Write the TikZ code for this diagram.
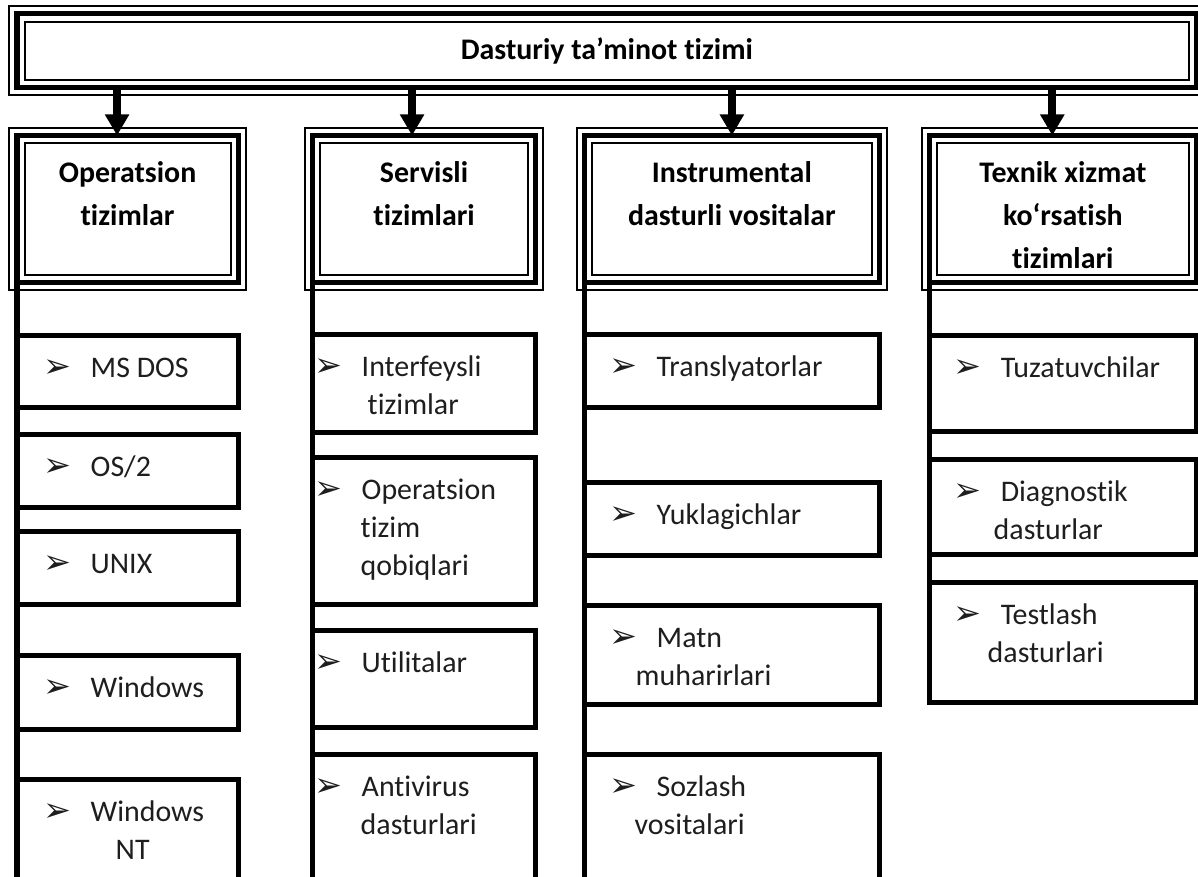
\documentclass[tikz,border=0pt]{standalone}
\usepackage{fontspec}
\setmainfont{Carlito}[Ligatures=NoCommon]
\newfontfamily\bulletfont{DejaVu Sans}
\usetikzlibrary{arrows.meta,calc,positioning}
\definecolor{ink}{HTML}{000000}
\definecolor{itemink}{HTML}{1E1E1E}
\newcommand{\itemmark}{\strut\makebox[.47cm][l]{\bulletfont\fontsize{9.5}{10}\selectfont ➢}}
\tikzset{
  triple border/.style={draw=ink,line width=.05cm,outer sep=0pt,inner sep=0pt,
    preaction={draw=ink,line width=.17cm},
    preaction={draw=white,line width=.13cm}},
  head box/.style={triple border,anchor=north west,
    font=\bfseries\fontsize{8.5}{10.2}\selectfont},
  cat box/.style={triple border,anchor=north west,minimum height=1.47cm},
  leaf box/.style={draw=ink,line width=.05cm,anchor=north west,outer sep=0pt,inner sep=0pt},
  cat text/.style={anchor=north,inner sep=0pt,align=center,text=ink,
    font=\bfseries\fontsize{8.5}{12.2}\selectfont},
  item text/.style={anchor=north west,inner sep=0pt,align=left,text=itemink,
    font=\fontsize{8.5}{10.8}\selectfont},
  down arrow/.style={draw=ink,line width=.08cm,-{Triangle[length=.21cm,width=.23cm]}},
  spine/.style={draw=ink,line width=.05cm}
}

\begin{document}
\begin{tikzpicture}[x=0.01cm,y=-0.01cm]
  \clip (0,0) rectangle (1198,876);
  \fill[white] (0,0) rectangle (1198,876);

  % Root
  \node[head box,minimum width=11.79cm,minimum height=.73cm] (top) at (17,14)
    {Dasturiy ta’minot tizimi};

  % Four groups
  \node[cat box,minimum width=2.21cm]  (c1) at (17,135.5) {};
  \node[cat box,minimum width=2.23cm]  (c2) at (312.5,135.5) {};
  \node[cat box,minimum width=2.955cm] (c3) at (584,135.5) {};
  \node[cat box,minimum width=2.665cm] (c4) at (929.5,135.5) {};

  \node[cat text] (ct1) at ($(c1.north)+(0,16.5)$) {\strut Operatsion\\tizimlar};
  \node[cat text] (ct2) at ($(c2.north)+(0,16.5)$) {\strut Servisli\\tizimlari};
  \node[cat text] (ct3) at ($(c3.north)+(0,16.5)$) {\strut Instrumental\\dasturli vositalar};
  \node[cat text] (ct4) at ($(c4.north)+(0,16.5)$) {\strut Texnik xizmat\\ko‘rsatish\\tizimlari};

  % Arrow ends on the group boxes
  \coordinate (a1) at ($(c1.north)+(-10.5,0)$);
  \coordinate (a2) at ($(c2.north)+(-12,0)$);
  \coordinate (a3) at (c3.north);
  \coordinate (a4) at ($(c4.north)+(-10.5,0)$);
  \draw[down arrow] (a1 |- top.south) -- (a1);
  \draw[down arrow] (a2 |- top.south) -- (a2);
  \draw[down arrow] (a3 |- top.south) -- (a3);
  \draw[down arrow] (a4 |- top.south) -- (a4);

  % Operatsion tizimlar
  \node[leaf box,minimum width=2.21cm,minimum height=.72cm]  (l11) at (17,335) {};
  \node[leaf box,minimum width=2.21cm,minimum height=.73cm]  (l12) at (17,434) {};
  \node[leaf box,minimum width=2.21cm,minimum height=.73cm]  (l13) at (17,531) {};
  \node[leaf box,minimum width=2.21cm,minimum height=.74cm]  (l14) at (17,655) {};
  \node[leaf box,minimum width=2.21cm,minimum height=1.21cm] (l15) at (17,779) {};
  \draw[spine] (c1.south west) -- (l15.south west);

  \node[item text] (t11) at ($(l11.north west)+(26,15.3)$) {\itemmark MS DOS};
  \node[item text] (t12) at ($(l12.north west)+(26,15.3)$) {\itemmark OS/2};
  \node[item text] (t13) at ($(l13.north west)+(26,15.3)$) {\itemmark UNIX};
  \node[item text] (t14) at ($(l14.north west)+(26,15.3)$) {\itemmark Windows};
  \node[item text] (t15) at ($(l15.north west)+(26,15.3)$) {\itemmark Windows\\\hspace*{.72cm}NT};

  % Servisli tizimlari
  \node[leaf box,minimum width=2.23cm,minimum height=.98cm]  (l21) at (312.5,334) {};
  \node[leaf box,minimum width=2.23cm,minimum height=1.47cm] (l22) at (312.5,457) {};
  \node[leaf box,minimum width=2.23cm,minimum height=.97cm]  (l23) at (312.5,630) {};
  \node[leaf box,minimum width=2.23cm,minimum height=1.46cm] (l24) at (312.5,754) {};
  \draw[spine] (c2.south west) -- (l24.south west);

  \node[item text] (t21) at ($(l21.north west)+(1.5,15.3)$) {\itemmark Interfeysli\\\hspace*{.53cm}tizimlar};
  \node[item text] (t22) at ($(l22.north west)+(1.5,15.3)$) {\itemmark Operatsion\\\hspace*{.46cm}tizim\\\hspace*{.46cm}qobiqlari};
  \node[item text] (t23) at ($(l23.north west)+(1.5,15.3)$) {\itemmark Utilitalar};
  \node[item text] (t24) at ($(l24.north west)+(1.5,15.3)$) {\itemmark Antivirus\\\hspace*{.46cm}dasturlari};

  % Instrumental dasturli vositalar
  \node[leaf box,minimum width=2.955cm,minimum height=.73cm]  (l31) at (584,334) {};
  \node[leaf box,minimum width=2.955cm,minimum height=.73cm]  (l32) at (584,482) {};
  \node[leaf box,minimum width=2.955cm,minimum height=.99cm]  (l33) at (584,605) {};
  \node[leaf box,minimum width=2.955cm,minimum height=1.46cm] (l34) at (584,754) {};
  \draw[spine] (c3.south west) -- (l34.south west);

  \node[item text] (t31) at ($(l31.north west)+(25,15.3)$) {\itemmark Translyatorlar};
  \node[item text] (t32) at ($(l32.north west)+(25,15.3)$) {\itemmark Yuklagichlar};
  \node[item text] (t33) at ($(l33.north west)+(25,15.3)$) {\itemmark Matn\\\hspace*{.26cm}muharirlari};
  \node[item text] (t34) at ($(l34.north west)+(25,15.3)$) {\itemmark Sozlash\\\hspace*{.25cm}vositalari};

  % Texnik xizmat ko'rsatish tizimlari
  \node[leaf box,minimum width=2.665cm,minimum height=.96cm] (l41) at (929.5,335) {};
  \node[leaf box,minimum width=2.665cm,minimum height=.95cm] (l42) at (929.5,459) {};
  \node[leaf box,minimum width=2.665cm,minimum height=1.2cm] (l43) at (929.5,582) {};
  \draw[spine] (c4.south west) -- (l43.south west);

  \node[item text] (t41) at ($(l41.north west)+(23.5,15.3)$) {\itemmark Tuzatuvchilar};
  \node[item text] (t42) at ($(l42.north west)+(23.5,15.3)$) {\itemmark Diagnostik\\\hspace*{.40cm}dasturlar};
  \node[item text] (t43) at ($(l43.north west)+(23.5,15.3)$) {\itemmark Testlash\\\hspace*{.34cm}dasturlari};
\end{tikzpicture}
\end{document}
